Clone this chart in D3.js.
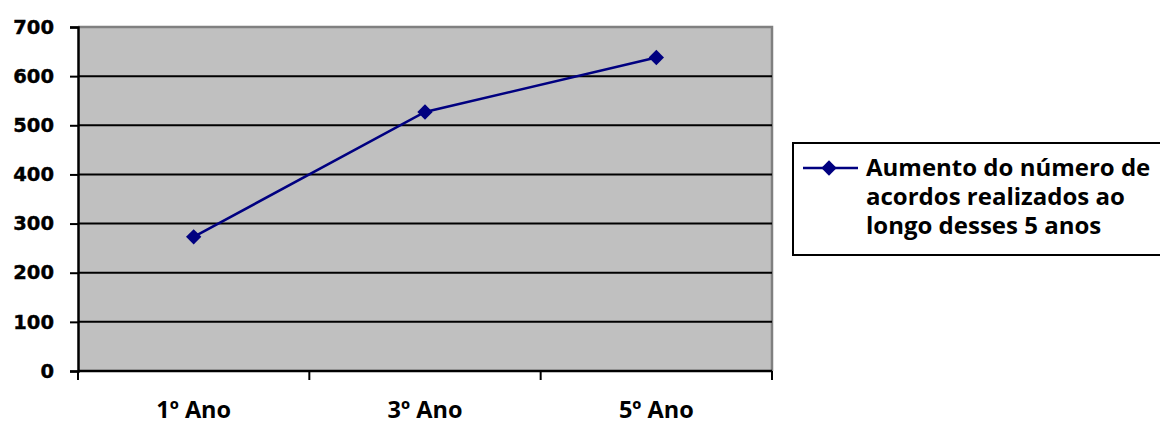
<!DOCTYPE html>
<html>
<head>
<meta charset="utf-8">
<script src="https://cdn.jsdelivr.net/npm/d3@7"></script>
<style>
  body { margin: 0; background: #fff; }
  svg { display: block; }
</style>
</head>
<body>
<div id="chart"></div>
<script>
const categories = ["1º Ano", "3º Ano", "5º Ano"];
const values = [273, 527, 638];
const yTicks = [0, 100, 200, 300, 400, 500, 600, 700];
const seriesName = ["Aumento do número de", "acordos realizados ao", "longo desses 5 anos"];

const params = {
    width: 1160,
    height: 423,
    margin: {top: 27, right: 388, bottom: 52, left: 78},
    color: "#000080",
    plotBg: "#c0c0c0"
};

const innerW = params.width - params.margin.left - params.margin.right;
const innerH = params.height - params.margin.top - params.margin.bottom;

const svg = d3.select("#chart")
    .append("svg")
    .attr("width", params.width)
    .attr("height", params.height);

const g = svg.append("g")
    .attr("transform", `translate(${params.margin.left},${params.margin.top})`);

const x = d3.scaleBand()
    .domain(categories)
    .range([0, innerW]);

const y = d3.scaleLinear()
    .domain([0, 700])
    .range([innerH, 0]);

// plot background
g.append("rect")
    .attr("width", innerW)
    .attr("height", innerH)
    .attr("fill", params.plotBg);

// gray border top / right
g.append("path")
    .attr("d", `M0,${y(700)}H${innerW}V${innerH}`)
    .attr("fill", "none")
    .attr("stroke", "#808080")
    .attr("stroke-width", 2.5);

// gridlines
g.append("g")
    .selectAll("line")
    .data(yTicks.filter(d => d > 0 && d < 700))
    .enter().append("line")
        .attr("x1", 0)
        .attr("x2", innerW)
        .attr("y1", d => y(d))
        .attr("y2", d => y(d))
        .attr("stroke", "#000")
        .attr("stroke-width", 2);

// Y-axis
const yAxis = g.append("g")
    .call(d3.axisLeft(y).tickValues(yTicks).tickSize(8).tickPadding(16));
yAxis.select(".domain").attr("stroke-width", 2.5);
yAxis.selectAll(".tick line").attr("stroke-width", 2);
yAxis.selectAll("text")
    .attr("font-family", "DejaVu Sans, Verdana, sans-serif")
    .attr("font-weight", "bold")
    .attr("font-size", "19.5px")
    .attr("fill", "#000")
    .attr("stroke", "#000")
    .attr("stroke-width", 0.4);

// X-axis
const bandEdges = categories.map(c => x(c)).concat([innerW]);
const xAxis = g.append("g")
    .attr("transform", `translate(0,${innerH})`);
xAxis.append("line")
    .attr("x1", 0).attr("x2", innerW)
    .attr("stroke", "#000").attr("stroke-width", 2.5);
xAxis.selectAll(".xtick")
    .data(bandEdges)
    .enter().append("line")
        .attr("x1", d => d).attr("x2", d => d)
        .attr("y1", 0).attr("y2", 9)
        .attr("stroke", "#000").attr("stroke-width", 2);
xAxis.selectAll(".xlabel")
    .data(categories)
    .enter().append("text")
        .attr("x", d => x(d) + x.bandwidth() / 2)
        .attr("y", 47)
        .attr("text-anchor", "middle")
        .attr("font-family", "Open Sans, sans-serif")
        .attr("font-weight", "bold")
        .attr("font-size", "23.5px")
        .text(d => d);

// line
const pts = categories.map((c, i) => ({cat: c, value: values[i]}));
g.append("path")
    .datum(pts)
    .attr("fill", "none")
    .attr("stroke", params.color)
    .attr("stroke-width", 2.5)
    .attr("d", d3.line().x(d => x(d.cat) + x.bandwidth() / 2).y(d => y(d.value)));

const diamond = d3.symbol().type(d3.symbolDiamond2).size(150);
g.selectAll(".pt")
    .data(pts)
    .enter().append("path")
        .attr("d", diamond)
        .attr("transform", d => `translate(${x(d.cat) + x.bandwidth() / 2},${y(d.value)})`)
        .attr("fill", params.color);

// legend
const legend = svg.append("g").attr("transform", "translate(793,143)");
legend.append("rect")
    .attr("width", 400)
    .attr("height", 112)
    .attr("fill", "#fff")
    .attr("stroke", "#000")
    .attr("stroke-width", 2);
legend.append("line")
    .attr("x1", 10).attr("x2", 65)
    .attr("y1", 25).attr("y2", 25)
    .attr("stroke", params.color)
    .attr("stroke-width", 2.5);
legend.append("path")
    .attr("d", diamond)
    .attr("transform", "translate(36,25)")
    .attr("fill", params.color);
legend.selectAll(".lt")
    .data(seriesName)
    .enter().append("text")
        .attr("x", 73)
        .attr("y", (d, i) => 33 + i * 29)
        .attr("font-family", "Open Sans, sans-serif")
        .attr("font-weight", "bold")
        .attr("font-size", "24px")
        .text(d => d);
</script>
</body>
</html>
